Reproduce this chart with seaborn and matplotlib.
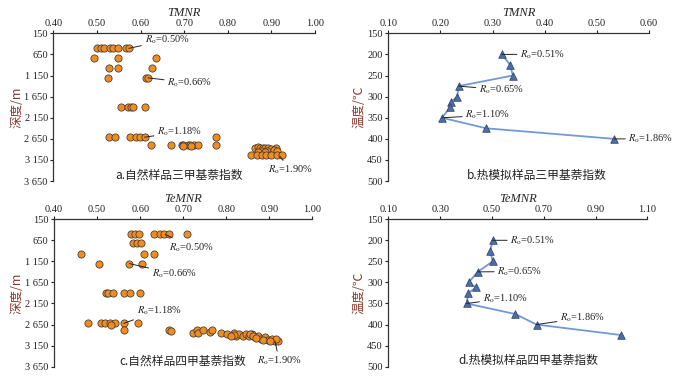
import numpy as np
import pandas as pd
import matplotlib
matplotlib.use("Agg")
import matplotlib.pyplot as plt
from matplotlib.ticker import FuncFormatter
import seaborn as sns

# a. natural samples, TMNR vs depth
a_tmnr = [0.500, 0.508, 0.517, 0.529, 0.537, 0.548, 0.567, 0.573,
          0.492, 0.549, 0.635,
          0.528, 0.548, 0.625,
          0.525, 0.613, 0.617,
          0.554, 0.572, 0.578, 0.582, 0.609,
          0.528, 0.542, 0.575, 0.589, 0.598, 0.609, 0.772,
          0.623, 0.669, 0.694, 0.698, 0.708, 0.714, 0.722, 0.732, 0.773,
          0.697, 0.716,
          0.862, 0.868, 0.874, 0.880, 0.886, 0.892, 0.900, 0.910,
          0.875, 0.890, 0.905, 0.912, 0.870, 0.885,
          0.854, 0.866, 0.878, 0.888, 0.900, 0.912, 0.923]
a_depth = [507] * 8 + [729] * 3 + [983] * 3 + [1205] * 3 + [1895] * 5 + [2610] * 7 \
    + [2790] * 9 + [2830] * 2 + [2860, 2850, 2855, 2865, 2870, 2875, 2880, 2870] \
    + [2930, 2935, 2925, 2940, 2960, 2965] + [3020] * 7

# c. natural samples, TeMNR vs depth
c_temnr = [0.579, 0.588, 0.598, 0.633, 0.645, 0.656, 0.668, 0.708,
           0.584, 0.592, 0.601,
           0.462, 0.609, 0.631,
           0.505, 0.575, 0.605,
           0.520, 0.525, 0.537, 0.562, 0.576, 0.599,
           0.479, 0.508, 0.518, 0.530, 0.542, 0.562, 0.596, 0.533,
           0.562, 0.667, 0.671,
           0.723, 0.732, 0.735, 0.746, 0.762, 0.767,
           0.788, 0.802, 0.818, 0.822, 0.830, 0.838, 0.846, 0.852, 0.860, 0.866,
           0.873, 0.880, 0.889, 0.896, 0.907, 0.913, 0.921, 0.915, 0.854, 0.862,
           0.870, 0.885, 0.901, 0.818, 0.810]
c_depth = [507] * 8 + [720] * 3 + [982] * 3 + [1203] * 3 + [1908] * 6 \
    + [2620] * 7 + [2650] + [2780, 2780, 2810] \
    + [2848, 2785, 2848, 2785, 2820, 2785] \
    + [2848, 2880, 2848, 2927, 2880, 2919, 2880, 2927, 2880, 2943,
       2911, 2982, 2943, 3006, 2982, 3038, 3038, 2982, 2880, 2911,
       2959, 3006, 3038, 2900, 2927]

# b. thermal simulation, TMNR vs temperature
b_temp = [200, 225, 250, 275, 300, 312, 325, 350, 375, 400]
b_tmnr = [0.318, 0.334, 0.339, 0.235, 0.232, 0.221, 0.219, 0.203, 0.288, 0.534]

# d. thermal simulation, TeMNR vs temperature
d_temp = [200, 225, 250, 275, 300, 312, 325, 350, 375, 400, 425]
d_temnr = [0.503, 0.493, 0.503, 0.445, 0.410, 0.438, 0.409, 0.402, 0.590, 0.672, 1.000]

# Ro labels: (text, point x, point y, text x, text y)
a_notes = [("0.50%", 0.573, 507, 0.609, 309), ("0.66%", 0.617, 1205, 0.661, 1324),
           ("1.18%", 0.609, 2610, 0.638, 2490), ("1.90%", 0.919, 3060, 0.892, 3385)]
c_notes = [("0.50%", 0.658, 507, 0.666, 815), ("0.66%", 0.575, 1203, 0.627, 1449),
           ("1.18%", 0.562, 2620, 0.592, 2320), ("1.90%", 0.913, 3040, 0.871, 3508)]
b_notes = [("0.51%", 0.318, 200, 0.353, 200), ("0.65%", 0.235, 275, 0.274, 284),
           ("1.10%", 0.203, 350, 0.248, 344), ("1.86%", 0.534, 400, 0.561, 400)]
d_notes = [("0.51%", 0.503, 200, 0.571, 200), ("0.65%", 0.445, 275, 0.521, 274),
           ("1.10%", 0.402, 350, 0.464, 338), ("1.86%", 0.672, 400, 0.763, 384)]

sns.set_style("ticks")
plt.rcParams['font.family'] = ['Liberation Serif', 'Noto Sans CJK SC']
plt.rcParams['mathtext.fontset'] = 'stix'

ORANGE = "#F28C1E"
BLUE = "#4C6DAA"
LINE = "#7398D8"
LABEL_C = "#8B3A2E"
CJK = ['Noto Sans CJK SC', 'Liberation Serif']

fig = plt.figure(figsize=(6.85, 3.87), dpi=100)
ax_a = fig.add_axes([0.078, 0.532, 0.382, 0.382])
ax_b = fig.add_axes([0.567, 0.532, 0.380, 0.382])
ax_c = fig.add_axes([0.079, 0.0525, 0.377, 0.381])
ax_d = fig.add_axes([0.567, 0.0525, 0.378, 0.381])


def style(ax, xlabel, ylabel, caption, xlim, xticks, ylim, yticks, depth=False, cap_x=0.5):
    ax.set_xlim(*xlim)
    ax.set_ylim(ylim[1], ylim[0])
    ax.set_xticks(xticks)
    ax.set_yticks(yticks)
    ax.xaxis.tick_top()
    ax.xaxis.set_label_position('top')
    ax.xaxis.set_major_formatter(FuncFormatter(lambda v, p: f"{v:.2f}"))
    if depth:
        ax.yaxis.set_major_formatter(FuncFormatter(lambda v, p: f"{int(v):,}".replace(",", " ")))
    for s in ["right", "bottom"]:
        ax.spines[s].set_visible(False)
    for s in ["left", "top"]:
        ax.spines[s].set_color("#333333")
        ax.spines[s].set_linewidth(0.9)
    ax.tick_params(axis="both", labelsize=7.5, length=2.5, width=0.8, pad=1.5, colors="#222222")
    ax.set_xlabel(xlabel, fontsize=9, style="italic", labelpad=2)
    ax.set_ylabel(ylabel, fontsize=9, family=CJK, color=LABEL_C, labelpad=1)
    ax.text(cap_x, 0.04, caption, transform=ax.transAxes, ha="center", va="center",
            fontsize=8.5, family=CJK, color="#222222")


def notes(ax, items):
    for t, px, py, tx, ty in items:
        ax.annotate(r"$R_\mathrm{o}$=" + t, xy=(px, py), xytext=(tx, ty),
                    fontsize=7.5, va="center", ha="left", color="#222222",
                    arrowprops=dict(arrowstyle="-", color="#222222", lw=0.7,
                                    shrinkA=0, shrinkB=0))


depth_ticks = [150, 650, 1150, 1650, 2150, 2650, 3150, 3650]
temp_ticks = [150, 200, 250, 300, 350, 400, 450, 500]

df_a = pd.DataFrame({"TMNR": a_tmnr, "depth": a_depth})
sns.scatterplot(data=df_a, x="TMNR", y="depth", ax=ax_a, color=ORANGE, s=27,
                edgecolor="#3a3a3a", linewidth=0.55, zorder=3)
style(ax_a, "TMNR", "深度/m", "a.自然样品三甲基萘指数", (0.40, 1.00),
      np.arange(0.40, 1.001, 0.10), (150, 3650), depth_ticks, depth=True, cap_x=0.48)
notes(ax_a, a_notes)

df_c = pd.DataFrame({"TeMNR": c_temnr, "depth": c_depth})
sns.scatterplot(data=df_c, x="TeMNR", y="depth", ax=ax_c, color=ORANGE, s=27,
                edgecolor="#3a3a3a", linewidth=0.55, zorder=3)
style(ax_c, "TeMNR", "深度/m", "c.自然样品四甲基萘指数", (0.40, 1.00),
      np.arange(0.40, 1.001, 0.10), (150, 3650), depth_ticks, depth=True, cap_x=0.5)
notes(ax_c, c_notes)

df_b = pd.DataFrame({"TMNR": b_tmnr, "temp": b_temp})
sns.lineplot(data=df_b, x="TMNR", y="temp", ax=ax_b, sort=False, color=LINE, lw=1.3,
             estimator=None)
sns.scatterplot(data=df_b, x="TMNR", y="temp", ax=ax_b, marker="^", color=BLUE, s=30,
                edgecolor="#2d3f66", linewidth=0.5, zorder=3)
style(ax_b, "TMNR", "温度/℃", "b.热模拟样品三甲基萘指数", (0.10, 0.60),
      np.arange(0.10, 0.601, 0.10), (150, 500), temp_ticks, cap_x=0.57)
notes(ax_b, b_notes)

df_d = pd.DataFrame({"TeMNR": d_temnr, "temp": d_temp})
sns.lineplot(data=df_d, x="TeMNR", y="temp", ax=ax_d, sort=False, color=LINE, lw=1.3,
             estimator=None)
sns.scatterplot(data=df_d, x="TeMNR", y="temp", ax=ax_d, marker="^", color=BLUE, s=30,
                edgecolor="#2d3f66", linewidth=0.5, zorder=3)
style(ax_d, "TeMNR", "温度/℃", "d.热模拟样品四甲基萘指数", (0.10, 1.10),
      np.arange(0.10, 1.101, 0.20), (150, 500), temp_ticks, cap_x=0.54)
notes(ax_d, d_notes)

fig.savefig("out.png", dpi=100)
